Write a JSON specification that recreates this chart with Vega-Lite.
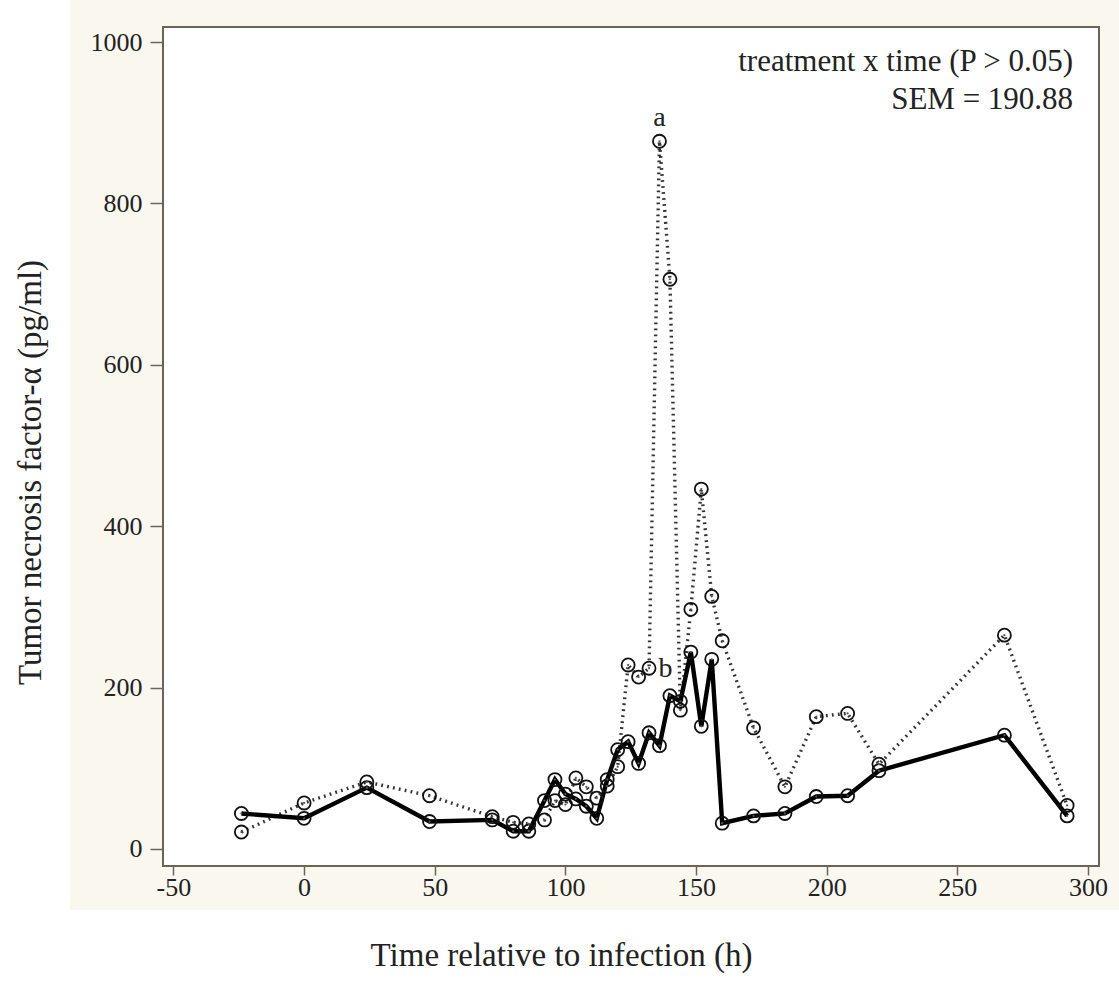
{
  "$schema": "https://vega.github.io/schema/vega-lite/v6.json",
  "width": 936,
  "height": 839,
  "autosize": {"type": "none"},
  "padding": {"left": 163, "top": 27, "right": 20, "bottom": 131},
  "background": "white",
  "config": {
    "view": {"stroke": null},
    "font": "Liberation Serif",
    "axis": {
      "domain": false,
      "grid": false,
      "labelFont": "Liberation Serif",
      "labelFontSize": 26,
      "labelColor": "#222222",
      "labelExpr": "datum.value < 0 ? '-' + abs(datum.value) : '' + datum.value",
      "tickColor": "#6b6457",
      "tickWidth": 1.5,
      "titleFont": "Liberation Serif",
      "titleFontWeight": "normal",
      "titleFontSize": 33,
      "titleColor": "#222222"
    },
    "axisX": {"tickSize": 9, "labelPadding": -1, "titleX": 398, "titleY": 89, "titleBaseline": "middle", "titleAlign": "center"},
    "axisY": {"tickSize": 13, "labelPadding": 8, "titleX": -133, "titleY": 445, "titleAngle": 270, "titleBaseline": "middle", "titleAlign": "center"}
  },
  "datasets": {
    "tnf": [
      {"time": -24, "group": "Treated", "tnf": 21}, {"time": 0, "group": "Treated", "tnf": 57},
      {"time": 24, "group": "Treated", "tnf": 83}, {"time": 48, "group": "Treated", "tnf": 66},
      {"time": 72, "group": "Treated", "tnf": 40}, {"time": 80, "group": "Treated", "tnf": 33},
      {"time": 86, "group": "Treated", "tnf": 31}, {"time": 92, "group": "Treated", "tnf": 36},
      {"time": 96, "group": "Treated", "tnf": 60}, {"time": 100, "group": "Treated", "tnf": 55},
      {"time": 104, "group": "Treated", "tnf": 88}, {"time": 108, "group": "Treated", "tnf": 77},
      {"time": 112, "group": "Treated", "tnf": 63}, {"time": 116, "group": "Treated", "tnf": 78},
      {"time": 120, "group": "Treated", "tnf": 102}, {"time": 124, "group": "Treated", "tnf": 228},
      {"time": 128, "group": "Treated", "tnf": 213}, {"time": 132, "group": "Treated", "tnf": 224},
      {"time": 136, "group": "Treated", "tnf": 877}, {"time": 140, "group": "Treated", "tnf": 706},
      {"time": 144, "group": "Treated", "tnf": 172}, {"time": 148, "group": "Treated", "tnf": 297},
      {"time": 152, "group": "Treated", "tnf": 446}, {"time": 156, "group": "Treated", "tnf": 313},
      {"time": 160, "group": "Treated", "tnf": 258}, {"time": 172, "group": "Treated", "tnf": 150},
      {"time": 184, "group": "Treated", "tnf": 77}, {"time": 196, "group": "Treated", "tnf": 164},
      {"time": 208, "group": "Treated", "tnf": 168}, {"time": 220, "group": "Treated", "tnf": 105},
      {"time": 268, "group": "Treated", "tnf": 265}, {"time": 292, "group": "Treated", "tnf": 54},
      {"time": -24, "group": "Control", "tnf": 44}, {"time": 0, "group": "Control", "tnf": 38},
      {"time": 24, "group": "Control", "tnf": 76}, {"time": 48, "group": "Control", "tnf": 34},
      {"time": 72, "group": "Control", "tnf": 36}, {"time": 80, "group": "Control", "tnf": 22},
      {"time": 86, "group": "Control", "tnf": 22}, {"time": 92, "group": "Control", "tnf": 60},
      {"time": 96, "group": "Control", "tnf": 86}, {"time": 100, "group": "Control", "tnf": 68},
      {"time": 104, "group": "Control", "tnf": 62}, {"time": 108, "group": "Control", "tnf": 53},
      {"time": 112, "group": "Control", "tnf": 38}, {"time": 116, "group": "Control", "tnf": 86},
      {"time": 120, "group": "Control", "tnf": 123}, {"time": 124, "group": "Control", "tnf": 133},
      {"time": 128, "group": "Control", "tnf": 106}, {"time": 132, "group": "Control", "tnf": 144},
      {"time": 136, "group": "Control", "tnf": 128}, {"time": 140, "group": "Control", "tnf": 190},
      {"time": 144, "group": "Control", "tnf": 183}, {"time": 148, "group": "Control", "tnf": 244},
      {"time": 152, "group": "Control", "tnf": 152}, {"time": 156, "group": "Control", "tnf": 235},
      {"time": 160, "group": "Control", "tnf": 32}, {"time": 172, "group": "Control", "tnf": 41},
      {"time": 184, "group": "Control", "tnf": 44}, {"time": 196, "group": "Control", "tnf": 65},
      {"time": 208, "group": "Control", "tnf": 66}, {"time": 220, "group": "Control", "tnf": 97},
      {"time": 268, "group": "Control", "tnf": 141}, {"time": 292, "group": "Control", "tnf": 41}
    ],
    "letters": [
      {"time": 136, "tnf": 906, "label": "a"},
      {"time": 138.3, "tnf": 223, "label": "b"}
    ],
    "note": [
      {"time": 294.3, "tnf": 975, "label": "treatment x time (P > 0.05)"},
      {"time": 294.3, "tnf": 928, "label": "SEM = 190.88"}
    ],
    "panel": [{"x1": -89.6, "x2": 312, "y1": -75.6, "y2": 1052}],
    "plot": [{"x1": -54, "x2": 304.2, "y1": -21.1, "y2": 1018.6}]
  },
  "layer": [
    {
      "data": {"name": "panel"},
      "mark": {"type": "rect", "color": "#faf7ef", "clip": false},
      "encoding": {
        "x": {"field": "x1", "type": "quantitative", "title": "Time relative to infection (h)", "scale": {"domain": [-54, 304.2], "nice": false, "zero": false}, "axis": {"values": [-50, 0, 50, 100, 150, 200, 250, 300], "zindex": 3}},
        "x2": {"field": "x2"},
        "y": {"field": "y1", "type": "quantitative", "title": "Tumor necrosis factor-α (pg/ml)", "scale": {"domain": [-21.1, 1018.6], "nice": false, "zero": false}, "axis": {"values": [0, 200, 400, 600, 800, 1000], "zindex": 3}},
        "y2": {"field": "y2"}
      }
    },
    {
      "data": {"name": "plot"},
      "mark": {"type": "rect", "fill": "white", "stroke": "#6b6457", "strokeWidth": 2},
      "encoding": {
        "x": {"field": "x1", "type": "quantitative", "title": "Time relative to infection (h)", "scale": {"domain": [-54, 304.2], "nice": false, "zero": false}, "axis": {"values": [-50, 0, 50, 100, 150, 200, 250, 300], "zindex": 3}},
        "x2": {"field": "x2"},
        "y": {"field": "y1", "type": "quantitative", "title": "Tumor necrosis factor-α (pg/ml)", "scale": {"domain": [-21.1, 1018.6], "nice": false, "zero": false}, "axis": {"values": [0, 200, 400, 600, 800, 1000], "zindex": 3}},
        "y2": {"field": "y2"}
      }
    },
    {
      "data": {"name": "tnf"},
      "transform": [{"filter": "datum.group === 'Treated'"}],
      "mark": {"type": "line", "color": "#333333", "strokeWidth": 3.4, "strokeDash": [1.8, 4.2]},
      "encoding": {
        "x": {"field": "time", "type": "quantitative", "title": "Time relative to infection (h)", "scale": {"domain": [-54, 304.2], "nice": false, "zero": false}, "axis": {"values": [-50, 0, 50, 100, 150, 200, 250, 300], "zindex": 3}},
        "y": {"field": "tnf", "type": "quantitative", "title": "Tumor necrosis factor-α (pg/ml)", "scale": {"domain": [-21.1, 1018.6], "nice": false, "zero": false}, "axis": {"values": [0, 200, 400, 600, 800, 1000], "zindex": 3}}
      }
    },
    {
      "data": {"name": "tnf"},
      "transform": [{"filter": "datum.group === 'Control'"}],
      "mark": {"type": "line", "color": "black", "strokeWidth": 4.4},
      "encoding": {
        "x": {"field": "time", "type": "quantitative", "title": "Time relative to infection (h)", "scale": {"domain": [-54, 304.2], "nice": false, "zero": false}, "axis": {"values": [-50, 0, 50, 100, 150, 200, 250, 300], "zindex": 3}},
        "y": {"field": "tnf", "type": "quantitative", "title": "Tumor necrosis factor-α (pg/ml)", "scale": {"domain": [-21.1, 1018.6], "nice": false, "zero": false}, "axis": {"values": [0, 200, 400, 600, 800, 1000], "zindex": 3}}
      }
    },
    {
      "data": {"name": "tnf"},
      "mark": {"type": "point", "shape": "circle", "filled": false, "size": 170, "stroke": "#111111", "strokeWidth": 1.8, "opacity": 1},
      "encoding": {
        "x": {"field": "time", "type": "quantitative", "title": "Time relative to infection (h)", "scale": {"domain": [-54, 304.2], "nice": false, "zero": false}, "axis": {"values": [-50, 0, 50, 100, 150, 200, 250, 300], "zindex": 3}},
        "y": {"field": "tnf", "type": "quantitative", "title": "Tumor necrosis factor-α (pg/ml)", "scale": {"domain": [-21.1, 1018.6], "nice": false, "zero": false}, "axis": {"values": [0, 200, 400, 600, 800, 1000], "zindex": 3}}
      }
    },
    {
      "data": {"name": "tnf"},
      "mark": {"type": "point", "shape": "circle", "filled": true, "size": 5, "color": "#555555", "opacity": 1},
      "encoding": {
        "x": {"field": "time", "type": "quantitative", "title": "Time relative to infection (h)", "scale": {"domain": [-54, 304.2], "nice": false, "zero": false}, "axis": {"values": [-50, 0, 50, 100, 150, 200, 250, 300], "zindex": 3}},
        "y": {"field": "tnf", "type": "quantitative", "title": "Tumor necrosis factor-α (pg/ml)", "scale": {"domain": [-21.1, 1018.6], "nice": false, "zero": false}, "axis": {"values": [0, 200, 400, 600, 800, 1000], "zindex": 3}}
      }
    },
    {
      "data": {"name": "letters"},
      "mark": {"type": "text", "font": "Liberation Serif", "fontSize": 28, "color": "#222222", "baseline": "middle", "align": "center"},
      "encoding": {
        "x": {"field": "time", "type": "quantitative", "title": "Time relative to infection (h)", "scale": {"domain": [-54, 304.2], "nice": false, "zero": false}, "axis": {"values": [-50, 0, 50, 100, 150, 200, 250, 300], "zindex": 3}},
        "y": {"field": "tnf", "type": "quantitative", "title": "Tumor necrosis factor-α (pg/ml)", "scale": {"domain": [-21.1, 1018.6], "nice": false, "zero": false}, "axis": {"values": [0, 200, 400, 600, 800, 1000], "zindex": 3}},
        "text": {"field": "label"}
      }
    },
    {
      "data": {"name": "note"},
      "mark": {"type": "text", "font": "Liberation Serif", "fontSize": 31, "color": "#222222", "baseline": "middle", "align": "right"},
      "encoding": {
        "x": {"field": "time", "type": "quantitative", "title": "Time relative to infection (h)", "scale": {"domain": [-54, 304.2], "nice": false, "zero": false}, "axis": {"values": [-50, 0, 50, 100, 150, 200, 250, 300], "zindex": 3}},
        "y": {"field": "tnf", "type": "quantitative", "title": "Tumor necrosis factor-α (pg/ml)", "scale": {"domain": [-21.1, 1018.6], "nice": false, "zero": false}, "axis": {"values": [0, 200, 400, 600, 800, 1000], "zindex": 3}},
        "text": {"field": "label"}
      }
    }
  ]
}
